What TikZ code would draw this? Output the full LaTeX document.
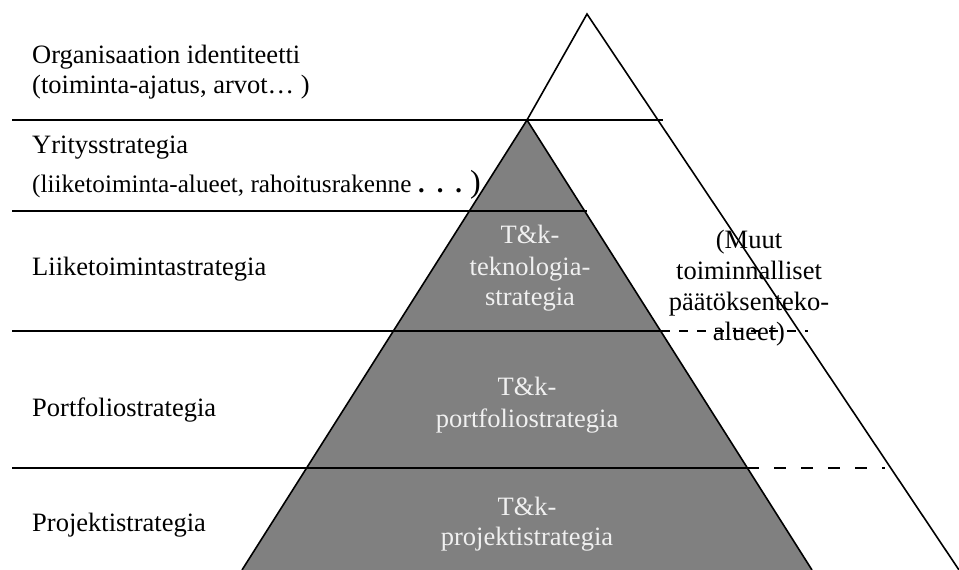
\documentclass[tikz,border=0pt]{standalone}
\usepackage{fontspec}
\setmainfont{Liberation Serif}
\begin{document}
\begin{tikzpicture}[x=1pt,y=-1pt,
  rule/.style={line width=1.6pt},
  lvltext/.style={inner sep=0pt,anchor=base west,font=\fontsize{26.5}{30}\selectfont},
  inlabel/.style={inner sep=0pt,anchor=base,font=\fontsize{26.5}{30}\selectfont,text=white!94!black},
  sidelabel/.style={inner sep=0pt,anchor=base,font=\fontsize{26.5}{30}\selectfont}]
\useasboundingbox (0,0) rectangle (959,570);
% pyramid corners
\coordinate (gtop) at (527,120);
\coordinate (gleft) at (242,570);
\coordinate (gright) at (812,570);
\coordinate (btop) at (587,14);
\coordinate (bright) at (959,570);
% the grey pyramid
\fill[black!50] (gtop) -- (gleft) -- (gright) -- cycle;
\draw[rule] (gleft) -- (gtop) -- (gright);
% the outer triangle
\draw[rule] (gtop) -- (btop) -- (bright);
% level separators
\coordinate (l1a) at (12,120);   \coordinate (l1b) at (663,120);
\coordinate (l2a) at (12,211);   \coordinate (l2b) at (587,211);
\coordinate (l3a) at (12,331);   \coordinate (l3b) at (661,331); \coordinate (l3c) at (808,331);
\coordinate (l4a) at (12,468);   \coordinate (l4b) at (747,468); \coordinate (l4c) at (885,468);
\draw[rule] (l1a) -- (l1b);
\draw[rule] (l2a) -- (l2b);
\draw[rule] (l3a) -- (l3b);
\draw[rule,dash pattern=on 9pt off 9pt] (l3b) -- (l3c);
\draw[rule] (l4a) -- (l4b);
\draw[rule,dash pattern=on 12pt off 15pt] (l4b) -- (l4c);
% level names
\node[lvltext] (org1) at (32,63) {Organisaation identiteetti};
\node[lvltext] (org2) at (32,93) {(toiminta-ajatus, arvot… )};
\node[lvltext] (yri1) at (32,153) {Yritysstrategia};
\node[lvltext,font=\fontsize{25.2}{30}\selectfont] (yri2) at (32,192) {(liiketoiminta-alueet, rahoitusrakenne};
\node[lvltext] (yridots) at (418,192) {\textbf{.}\hspace{12pt}\textbf{.}\hspace{12pt}\textbf{.}};
\node[inner sep=0pt,anchor=base west,font=\fontsize{32}{34}\selectfont] (yri3) at (470,192) {)};
\node[lvltext] (lii) at (32,275) {Liiketoimintastrategia};
\node[lvltext] (por) at (32,416) {Portfoliostrategia};
\node[lvltext] (pro) at (32,531) {Projektistrategia};
% R&D strategy levels inside the pyramid
\node[inlabel] (tk1a) at (530,243) {T\&k-};
\node[inlabel] (tk1b) at (530,275) {teknologia-};
\node[inlabel] (tk1c) at (530,305) {strategia};
\node[inlabel] (tk2a) at (527,395) {T\&k-};
\node[inlabel] (tk2b) at (527,427) {portfoliostrategia};
\node[inlabel] (tk3a) at (527,515) {T\&k-};
\node[inlabel] (tk3b) at (527,545) {projektistrategia};
% other decision areas
\node[sidelabel] (mu1) at (749,248) {(Muut};
\node[sidelabel] (mu2) at (749,279) {toiminnalliset};
\node[sidelabel] (mu3) at (749,310) {päätöksenteko-};
\node[sidelabel] (mu4) at (749,340) {alueet)};
\end{tikzpicture}
\end{document}
